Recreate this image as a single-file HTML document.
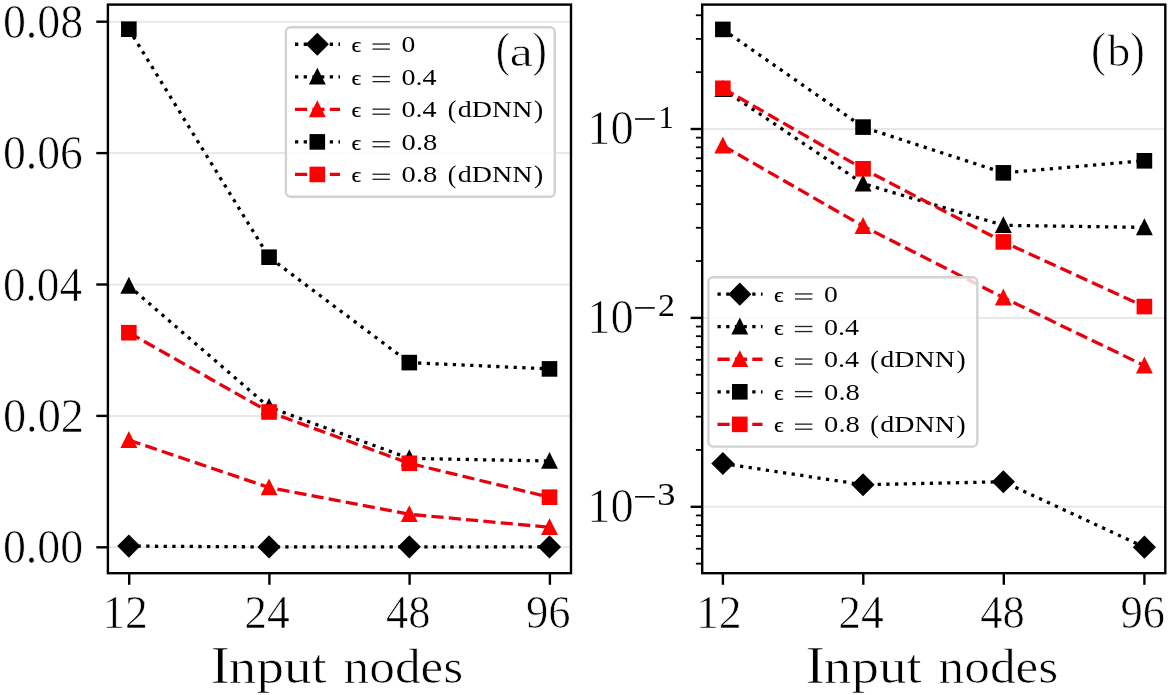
<!DOCTYPE html>
<html><head><meta charset="utf-8"><style>
html,body{margin:0;padding:0;background:#fff;}
svg{display:block;will-change:transform;font-family:"Liberation Serif",serif;font-kerning:none;}
</style></head><body>
<svg width="1169" height="695" viewBox="0 0 1169 695">
<rect width="1169" height="695" fill="#fff"/>
<clipPath id="clipL"><rect x="107.9" y="4.6" width="463.10" height="568.60"/></clipPath>
<line x1="107.9" y1="21.7" x2="571.0" y2="21.7" stroke="#e8e8e8" stroke-width="2"/>
<line x1="107.9" y1="153.1" x2="571.0" y2="153.1" stroke="#e8e8e8" stroke-width="2"/>
<line x1="107.9" y1="284.5" x2="571.0" y2="284.5" stroke="#e8e8e8" stroke-width="2"/>
<line x1="107.9" y1="415.9" x2="571.0" y2="415.9" stroke="#e8e8e8" stroke-width="2"/>
<line x1="107.9" y1="547.3" x2="571.0" y2="547.3" stroke="#e8e8e8" stroke-width="2"/>
<g clip-path="url(#clipL)">
<polyline points="128.85,546.10 269.05,546.90 409.30,546.85 549.50,546.90" fill="none" stroke="#000" stroke-width="3.28" stroke-dasharray="3.28 5.41" stroke-linejoin="round"/>
<polygon points="128.85,534.50 140.45,546.10 128.85,557.70 117.25,546.10" fill="#000"/>
<polygon points="269.05,535.30 280.65,546.90 269.05,558.50 257.45,546.90" fill="#000"/>
<polygon points="409.30,535.25 420.90,546.85 409.30,558.45 397.70,546.85" fill="#000"/>
<polygon points="549.50,535.30 561.10,546.90 549.50,558.50 537.90,546.90" fill="#000"/>
<polyline points="128.85,285.90 269.05,407.20 409.30,458.40 549.50,461.00" fill="none" stroke="#000" stroke-width="3.28" stroke-dasharray="3.28 5.41" stroke-linejoin="round"/>
<polygon points="128.85,276.80 120.40,293.70 137.30,293.70" fill="#000"/>
<polygon points="269.05,398.10 260.60,415.00 277.50,415.00" fill="#000"/>
<polygon points="409.30,449.30 400.85,466.20 417.75,466.20" fill="#000"/>
<polygon points="549.50,451.90 541.05,468.80 557.95,468.80" fill="#000"/>
<polyline points="128.85,440.10 269.05,487.50 409.30,514.30 549.50,527.30" fill="none" stroke="#e8000c" stroke-width="3.28" stroke-dasharray="12.14 5.25" stroke-linejoin="round"/>
<polygon points="128.85,431.00 120.40,447.90 137.30,447.90" fill="#ff0000"/>
<polygon points="269.05,478.40 260.60,495.30 277.50,495.30" fill="#ff0000"/>
<polygon points="409.30,505.20 400.85,522.10 417.75,522.10" fill="#ff0000"/>
<polygon points="549.50,518.20 541.05,535.10 557.95,535.10" fill="#ff0000"/>
<polyline points="128.85,29.20 269.05,257.20 409.30,362.60 549.50,368.90" fill="none" stroke="#000" stroke-width="3.28" stroke-dasharray="3.28 5.41" stroke-linejoin="round"/>
<rect x="121.05" y="21.40" width="15.6" height="15.6" fill="#000"/>
<rect x="261.25" y="249.40" width="15.6" height="15.6" fill="#000"/>
<rect x="401.50" y="354.80" width="15.6" height="15.6" fill="#000"/>
<rect x="541.70" y="361.10" width="15.6" height="15.6" fill="#000"/>
<polyline points="128.85,332.70 269.05,412.00 409.30,463.30 549.50,497.20" fill="none" stroke="#e8000c" stroke-width="3.28" stroke-dasharray="12.14 5.25" stroke-linejoin="round"/>
<rect x="121.05" y="324.90" width="15.6" height="15.6" fill="#ff0000"/>
<rect x="261.25" y="404.20" width="15.6" height="15.6" fill="#ff0000"/>
<rect x="401.50" y="455.50" width="15.6" height="15.6" fill="#ff0000"/>
<rect x="541.70" y="489.40" width="15.6" height="15.6" fill="#ff0000"/>
</g>
<rect x="285.90" y="27.30" width="268.9" height="169.4" rx="4.6" ry="4.6" fill="#fff" fill-opacity="0.8" stroke="#d2d2d2" stroke-width="2.4"/>
<line x1="295.00" y1="44.25" x2="340.00" y2="44.25" stroke="#000" stroke-width="3.28" stroke-dasharray="3.28 5.41"/>
<polygon points="317.30,32.65 328.90,44.25 317.30,55.85 305.70,44.25" fill="#000"/>
<text x="351.40" y="52.19" font-size="21.73" textLength="9.60" lengthAdjust="spacingAndGlyphs" fill="#000" stroke="#000" stroke-width="0.2">ϵ</text>
<rect x="372.50" y="43.40" width="17.40" height="1.3" fill="#222"/>
<rect x="372.50" y="48.45" width="17.40" height="1.3" fill="#222"/>
<text x="401.45" y="52.37" font-size="23.34" textLength="13.80" lengthAdjust="spacingAndGlyphs" fill="#000">0</text>
<line x1="295.00" y1="76.80" x2="340.00" y2="76.80" stroke="#000" stroke-width="3.28" stroke-dasharray="3.28 5.41"/>
<polygon points="317.30,67.70 308.85,84.60 325.75,84.60" fill="#000"/>
<text x="351.40" y="84.74" font-size="21.73" textLength="9.60" lengthAdjust="spacingAndGlyphs" fill="#000" stroke="#000" stroke-width="0.2">ϵ</text>
<rect x="372.50" y="75.95" width="17.40" height="1.3" fill="#222"/>
<rect x="372.50" y="81.00" width="17.40" height="1.3" fill="#222"/>
<text x="401.63" y="84.80" font-size="23" textLength="35.00" lengthAdjust="spacingAndGlyphs" fill="#000">0.4</text>
<line x1="295.00" y1="109.35" x2="340.00" y2="109.35" stroke="#e8000c" stroke-width="3.28" stroke-dasharray="12.14 5.25"/>
<polygon points="317.30,100.25 308.85,117.15 325.75,117.15" fill="#ff0000"/>
<text x="351.40" y="117.29" font-size="21.73" textLength="9.60" lengthAdjust="spacingAndGlyphs" fill="#000" stroke="#000" stroke-width="0.2">ϵ</text>
<rect x="372.50" y="108.50" width="17.40" height="1.3" fill="#222"/>
<rect x="372.50" y="113.55" width="17.40" height="1.3" fill="#222"/>
<text x="401.63" y="117.35" font-size="23" textLength="35.00" lengthAdjust="spacingAndGlyphs" fill="#000">0.4</text>
<text x="447.77" y="117.65" font-size="25.37" textLength="8.56" lengthAdjust="spacingAndGlyphs" fill="#000">(</text>
<text x="457.79" y="117.15" font-size="23.6" textLength="74.55" lengthAdjust="spacingAndGlyphs" fill="#000">dDNN</text>
<text x="534.11" y="117.65" font-size="25.37" textLength="9.21" lengthAdjust="spacingAndGlyphs" fill="#000">)</text>
<line x1="295.00" y1="141.90" x2="340.00" y2="141.90" stroke="#000" stroke-width="3.28" stroke-dasharray="3.28 5.41"/>
<rect x="309.50" y="134.10" width="15.6" height="15.6" fill="#000"/>
<text x="351.40" y="149.84" font-size="21.73" textLength="9.60" lengthAdjust="spacingAndGlyphs" fill="#000" stroke="#000" stroke-width="0.2">ϵ</text>
<rect x="372.50" y="141.05" width="17.40" height="1.3" fill="#222"/>
<rect x="372.50" y="146.10" width="17.40" height="1.3" fill="#222"/>
<text x="401.61" y="149.90" font-size="23" textLength="35.67" lengthAdjust="spacingAndGlyphs" fill="#000">0.8</text>
<line x1="295.00" y1="174.45" x2="340.00" y2="174.45" stroke="#e8000c" stroke-width="3.28" stroke-dasharray="12.14 5.25"/>
<rect x="309.50" y="166.65" width="15.6" height="15.6" fill="#ff0000"/>
<text x="351.40" y="182.39" font-size="21.73" textLength="9.60" lengthAdjust="spacingAndGlyphs" fill="#000" stroke="#000" stroke-width="0.2">ϵ</text>
<rect x="372.50" y="173.60" width="17.40" height="1.3" fill="#222"/>
<rect x="372.50" y="178.65" width="17.40" height="1.3" fill="#222"/>
<text x="401.61" y="182.45" font-size="23" textLength="35.67" lengthAdjust="spacingAndGlyphs" fill="#000">0.8</text>
<text x="447.77" y="182.75" font-size="25.37" textLength="8.56" lengthAdjust="spacingAndGlyphs" fill="#000">(</text>
<text x="457.79" y="182.25" font-size="23.6" textLength="74.55" lengthAdjust="spacingAndGlyphs" fill="#000">dDNN</text>
<text x="534.11" y="182.75" font-size="25.37" textLength="9.21" lengthAdjust="spacingAndGlyphs" fill="#000">)</text>
<rect x="107.9" y="4.6" width="463.10" height="568.60" fill="none" stroke="#000" stroke-width="2.4" stroke-linejoin="miter"/>
<line x1="129.2" y1="573.2" x2="129.2" y2="584.8000000000001" stroke="#000" stroke-width="2.4"/>
<line x1="269.4" y1="573.2" x2="269.4" y2="584.8000000000001" stroke="#000" stroke-width="2.4"/>
<line x1="409.6" y1="573.2" x2="409.6" y2="584.8000000000001" stroke="#000" stroke-width="2.4"/>
<line x1="549.9" y1="573.2" x2="549.9" y2="584.8000000000001" stroke="#000" stroke-width="2.4"/>
<clipPath id="clipR"><rect x="702.2" y="4.6" width="463.10" height="568.60"/></clipPath>
<line x1="702.2" y1="129.0" x2="1165.3" y2="129.0" stroke="#e8e8e8" stroke-width="2"/>
<line x1="702.2" y1="317.9" x2="1165.3" y2="317.9" stroke="#e8e8e8" stroke-width="2"/>
<line x1="702.2" y1="506.8" x2="1165.3" y2="506.8" stroke="#e8e8e8" stroke-width="2"/>
<g clip-path="url(#clipR)">
<polyline points="722.85,463.50 863.05,484.75 1003.35,481.75 1144.40,547.15" fill="none" stroke="#000" stroke-width="3.28" stroke-dasharray="3.28 5.41" stroke-linejoin="round"/>
<polygon points="722.85,451.90 734.45,463.50 722.85,475.10 711.25,463.50" fill="#000"/>
<polygon points="863.05,473.15 874.65,484.75 863.05,496.35 851.45,484.75" fill="#000"/>
<polygon points="1003.35,470.15 1014.95,481.75 1003.35,493.35 991.75,481.75" fill="#000"/>
<polygon points="1144.40,535.55 1156.00,547.15 1144.40,558.75 1132.80,547.15" fill="#000"/>
<polyline points="722.85,89.10 863.05,183.60 1003.35,225.30 1144.40,227.40" fill="none" stroke="#000" stroke-width="3.28" stroke-dasharray="3.28 5.41" stroke-linejoin="round"/>
<polygon points="722.85,80.00 714.40,96.90 731.30,96.90" fill="#000"/>
<polygon points="863.05,174.50 854.60,191.40 871.50,191.40" fill="#000"/>
<polygon points="1003.35,216.20 994.90,233.10 1011.80,233.10" fill="#000"/>
<polygon points="1144.40,218.30 1135.95,235.20 1152.85,235.20" fill="#000"/>
<polyline points="722.85,145.60 863.05,226.10 1003.35,297.60 1144.40,365.60" fill="none" stroke="#e8000c" stroke-width="3.28" stroke-dasharray="12.14 5.25" stroke-linejoin="round"/>
<polygon points="722.85,136.50 714.40,153.40 731.30,153.40" fill="#ff0000"/>
<polygon points="863.05,217.00 854.60,233.90 871.50,233.90" fill="#ff0000"/>
<polygon points="1003.35,288.50 994.90,305.40 1011.80,305.40" fill="#ff0000"/>
<polygon points="1144.40,356.50 1135.95,373.40 1152.85,373.40" fill="#ff0000"/>
<polyline points="722.85,29.40 863.05,127.10 1003.35,172.85 1144.40,160.80" fill="none" stroke="#000" stroke-width="3.28" stroke-dasharray="3.28 5.41" stroke-linejoin="round"/>
<rect x="715.05" y="21.60" width="15.6" height="15.6" fill="#000"/>
<rect x="855.25" y="119.30" width="15.6" height="15.6" fill="#000"/>
<rect x="995.55" y="165.05" width="15.6" height="15.6" fill="#000"/>
<rect x="1136.60" y="153.00" width="15.6" height="15.6" fill="#000"/>
<polyline points="722.85,88.30 863.05,168.80 1003.35,241.90 1144.40,306.55" fill="none" stroke="#e8000c" stroke-width="3.28" stroke-dasharray="12.14 5.25" stroke-linejoin="round"/>
<rect x="715.05" y="80.50" width="15.6" height="15.6" fill="#ff0000"/>
<rect x="855.25" y="161.00" width="15.6" height="15.6" fill="#ff0000"/>
<rect x="995.55" y="234.10" width="15.6" height="15.6" fill="#ff0000"/>
<rect x="1136.60" y="298.75" width="15.6" height="15.6" fill="#ff0000"/>
</g>
<rect x="708.40" y="277.20" width="268.9" height="169.4" rx="4.6" ry="4.6" fill="#fff" fill-opacity="0.8" stroke="#d2d2d2" stroke-width="2.4"/>
<line x1="717.50" y1="294.15" x2="762.50" y2="294.15" stroke="#000" stroke-width="3.28" stroke-dasharray="3.28 5.41"/>
<polygon points="739.80,282.55 751.40,294.15 739.80,305.75 728.20,294.15" fill="#000"/>
<text x="773.90" y="302.09" font-size="21.73" textLength="9.60" lengthAdjust="spacingAndGlyphs" fill="#000" stroke="#000" stroke-width="0.2">ϵ</text>
<rect x="795.00" y="293.30" width="17.40" height="1.3" fill="#222"/>
<rect x="795.00" y="298.35" width="17.40" height="1.3" fill="#222"/>
<text x="823.95" y="302.27" font-size="23.34" textLength="13.80" lengthAdjust="spacingAndGlyphs" fill="#000">0</text>
<line x1="717.50" y1="326.70" x2="762.50" y2="326.70" stroke="#000" stroke-width="3.28" stroke-dasharray="3.28 5.41"/>
<polygon points="739.80,317.60 731.35,334.50 748.25,334.50" fill="#000"/>
<text x="773.90" y="334.64" font-size="21.73" textLength="9.60" lengthAdjust="spacingAndGlyphs" fill="#000" stroke="#000" stroke-width="0.2">ϵ</text>
<rect x="795.00" y="325.85" width="17.40" height="1.3" fill="#222"/>
<rect x="795.00" y="330.90" width="17.40" height="1.3" fill="#222"/>
<text x="824.13" y="334.70" font-size="23" textLength="35.00" lengthAdjust="spacingAndGlyphs" fill="#000">0.4</text>
<line x1="717.50" y1="359.25" x2="762.50" y2="359.25" stroke="#e8000c" stroke-width="3.28" stroke-dasharray="12.14 5.25"/>
<polygon points="739.80,350.15 731.35,367.05 748.25,367.05" fill="#ff0000"/>
<text x="773.90" y="367.19" font-size="21.73" textLength="9.60" lengthAdjust="spacingAndGlyphs" fill="#000" stroke="#000" stroke-width="0.2">ϵ</text>
<rect x="795.00" y="358.40" width="17.40" height="1.3" fill="#222"/>
<rect x="795.00" y="363.45" width="17.40" height="1.3" fill="#222"/>
<text x="824.13" y="367.25" font-size="23" textLength="35.00" lengthAdjust="spacingAndGlyphs" fill="#000">0.4</text>
<text x="870.27" y="367.55" font-size="25.37" textLength="8.56" lengthAdjust="spacingAndGlyphs" fill="#000">(</text>
<text x="880.29" y="367.05" font-size="23.6" textLength="74.55" lengthAdjust="spacingAndGlyphs" fill="#000">dDNN</text>
<text x="956.61" y="367.55" font-size="25.37" textLength="9.21" lengthAdjust="spacingAndGlyphs" fill="#000">)</text>
<line x1="717.50" y1="391.80" x2="762.50" y2="391.80" stroke="#000" stroke-width="3.28" stroke-dasharray="3.28 5.41"/>
<rect x="732.00" y="384.00" width="15.6" height="15.6" fill="#000"/>
<text x="773.90" y="399.74" font-size="21.73" textLength="9.60" lengthAdjust="spacingAndGlyphs" fill="#000" stroke="#000" stroke-width="0.2">ϵ</text>
<rect x="795.00" y="390.95" width="17.40" height="1.3" fill="#222"/>
<rect x="795.00" y="396.00" width="17.40" height="1.3" fill="#222"/>
<text x="824.11" y="399.80" font-size="23" textLength="35.67" lengthAdjust="spacingAndGlyphs" fill="#000">0.8</text>
<line x1="717.50" y1="424.35" x2="762.50" y2="424.35" stroke="#e8000c" stroke-width="3.28" stroke-dasharray="12.14 5.25"/>
<rect x="732.00" y="416.55" width="15.6" height="15.6" fill="#ff0000"/>
<text x="773.90" y="432.29" font-size="21.73" textLength="9.60" lengthAdjust="spacingAndGlyphs" fill="#000" stroke="#000" stroke-width="0.2">ϵ</text>
<rect x="795.00" y="423.50" width="17.40" height="1.3" fill="#222"/>
<rect x="795.00" y="428.55" width="17.40" height="1.3" fill="#222"/>
<text x="824.11" y="432.35" font-size="23" textLength="35.67" lengthAdjust="spacingAndGlyphs" fill="#000">0.8</text>
<text x="870.27" y="432.65" font-size="25.37" textLength="8.56" lengthAdjust="spacingAndGlyphs" fill="#000">(</text>
<text x="880.29" y="432.15" font-size="23.6" textLength="74.55" lengthAdjust="spacingAndGlyphs" fill="#000">dDNN</text>
<text x="956.61" y="432.65" font-size="25.37" textLength="9.21" lengthAdjust="spacingAndGlyphs" fill="#000">)</text>
<rect x="702.2" y="4.6" width="463.10" height="568.60" fill="none" stroke="#000" stroke-width="2.4" stroke-linejoin="miter"/>
<line x1="722.9" y1="573.2" x2="722.9" y2="584.8000000000001" stroke="#000" stroke-width="2.4"/>
<line x1="863.3" y1="573.2" x2="863.3" y2="584.8000000000001" stroke="#000" stroke-width="2.4"/>
<line x1="1003.8" y1="573.2" x2="1003.8" y2="584.8000000000001" stroke="#000" stroke-width="2.4"/>
<line x1="1144.4" y1="573.2" x2="1144.4" y2="584.8000000000001" stroke="#000" stroke-width="2.4"/>
<text x="102.23" y="627.50" font-size="47.4" textLength="45.69" lengthAdjust="spacingAndGlyphs" fill="#000" stroke="#fff" stroke-width="0.7">12</text>
<text x="244.35" y="627.50" font-size="47.4" textLength="45.46" lengthAdjust="spacingAndGlyphs" fill="#000" stroke="#fff" stroke-width="0.7">24</text>
<text x="385.98" y="627.50" font-size="47.4" textLength="44.57" lengthAdjust="spacingAndGlyphs" fill="#000" stroke="#fff" stroke-width="0.7">48</text>
<text x="526.06" y="627.50" font-size="47.4" textLength="44.62" lengthAdjust="spacingAndGlyphs" fill="#000" stroke="#fff" stroke-width="0.7">96</text>
<text x="695.93" y="627.50" font-size="47.4" textLength="45.69" lengthAdjust="spacingAndGlyphs" fill="#000" stroke="#fff" stroke-width="0.7">12</text>
<text x="838.25" y="627.50" font-size="47.4" textLength="45.46" lengthAdjust="spacingAndGlyphs" fill="#000" stroke="#fff" stroke-width="0.7">24</text>
<text x="980.18" y="627.50" font-size="47.4" textLength="44.57" lengthAdjust="spacingAndGlyphs" fill="#000" stroke="#fff" stroke-width="0.7">48</text>
<text x="1120.56" y="627.50" font-size="47.4" textLength="44.62" lengthAdjust="spacingAndGlyphs" fill="#000" stroke="#fff" stroke-width="0.7">96</text>
<text x="210.68" y="683.35" font-size="51.77" textLength="19.09" lengthAdjust="spacingAndGlyphs" fill="#000" stroke="#fff" stroke-width="0.7">I</text>
<text x="228.89" y="683.30" font-size="47.7" textLength="97.89" lengthAdjust="spacingAndGlyphs" fill="#000" stroke="#fff" stroke-width="0.7">nput</text>
<text x="343.57" y="683.30" font-size="47.7" textLength="119.73" lengthAdjust="spacingAndGlyphs" fill="#000" stroke="#fff" stroke-width="0.7">nodes</text>
<text x="805.68" y="683.35" font-size="51.77" textLength="19.09" lengthAdjust="spacingAndGlyphs" fill="#000" stroke="#fff" stroke-width="0.7">I</text>
<text x="823.89" y="683.30" font-size="47.7" textLength="97.89" lengthAdjust="spacingAndGlyphs" fill="#000" stroke="#fff" stroke-width="0.7">nput</text>
<text x="938.57" y="683.30" font-size="47.7" textLength="119.73" lengthAdjust="spacingAndGlyphs" fill="#000" stroke="#fff" stroke-width="0.7">nodes</text>
<line x1="96.30000000000001" y1="21.7" x2="107.9" y2="21.7" stroke="#000" stroke-width="2.4"/>
<text x="2.90" y="37.70" font-size="48.3" textLength="80.29" lengthAdjust="spacingAndGlyphs" fill="#000" stroke="#fff" stroke-width="0.7">0.08</text>
<line x1="96.30000000000001" y1="153.1" x2="107.9" y2="153.1" stroke="#000" stroke-width="2.4"/>
<text x="2.91" y="169.10" font-size="48.3" textLength="79.90" lengthAdjust="spacingAndGlyphs" fill="#000" stroke="#fff" stroke-width="0.7">0.06</text>
<line x1="96.30000000000001" y1="284.5" x2="107.9" y2="284.5" stroke="#000" stroke-width="2.4"/>
<text x="2.93" y="300.50" font-size="48.3" textLength="79.23" lengthAdjust="spacingAndGlyphs" fill="#000" stroke="#fff" stroke-width="0.7">0.04</text>
<line x1="96.30000000000001" y1="415.9" x2="107.9" y2="415.9" stroke="#000" stroke-width="2.4"/>
<text x="2.88" y="431.90" font-size="48.3" textLength="81.12" lengthAdjust="spacingAndGlyphs" fill="#000" stroke="#fff" stroke-width="0.7">0.02</text>
<line x1="96.30000000000001" y1="547.3" x2="107.9" y2="547.3" stroke="#000" stroke-width="2.4"/>
<text x="2.90" y="563.30" font-size="48.3" textLength="80.29" lengthAdjust="spacingAndGlyphs" fill="#000" stroke="#fff" stroke-width="0.7">0.00</text>
<line x1="695.9000000000001" y1="563.66" x2="702.2" y2="563.66" stroke="#000" stroke-width="1.8"/>
<line x1="695.9000000000001" y1="548.71" x2="702.2" y2="548.71" stroke="#000" stroke-width="1.8"/>
<line x1="695.9000000000001" y1="536.06" x2="702.2" y2="536.06" stroke="#000" stroke-width="1.8"/>
<line x1="695.9000000000001" y1="525.11" x2="702.2" y2="525.11" stroke="#000" stroke-width="1.8"/>
<line x1="695.9000000000001" y1="515.44" x2="702.2" y2="515.44" stroke="#000" stroke-width="1.8"/>
<line x1="695.9000000000001" y1="449.94" x2="702.2" y2="449.94" stroke="#000" stroke-width="1.8"/>
<line x1="695.9000000000001" y1="416.67" x2="702.2" y2="416.67" stroke="#000" stroke-width="1.8"/>
<line x1="695.9000000000001" y1="393.07" x2="702.2" y2="393.07" stroke="#000" stroke-width="1.8"/>
<line x1="695.9000000000001" y1="374.76" x2="702.2" y2="374.76" stroke="#000" stroke-width="1.8"/>
<line x1="695.9000000000001" y1="359.81" x2="702.2" y2="359.81" stroke="#000" stroke-width="1.8"/>
<line x1="695.9000000000001" y1="347.16" x2="702.2" y2="347.16" stroke="#000" stroke-width="1.8"/>
<line x1="695.9000000000001" y1="336.21" x2="702.2" y2="336.21" stroke="#000" stroke-width="1.8"/>
<line x1="695.9000000000001" y1="326.54" x2="702.2" y2="326.54" stroke="#000" stroke-width="1.8"/>
<line x1="695.9000000000001" y1="261.04" x2="702.2" y2="261.04" stroke="#000" stroke-width="1.8"/>
<line x1="695.9000000000001" y1="227.77" x2="702.2" y2="227.77" stroke="#000" stroke-width="1.8"/>
<line x1="695.9000000000001" y1="204.17" x2="702.2" y2="204.17" stroke="#000" stroke-width="1.8"/>
<line x1="695.9000000000001" y1="185.86" x2="702.2" y2="185.86" stroke="#000" stroke-width="1.8"/>
<line x1="695.9000000000001" y1="170.91" x2="702.2" y2="170.91" stroke="#000" stroke-width="1.8"/>
<line x1="695.9000000000001" y1="158.26" x2="702.2" y2="158.26" stroke="#000" stroke-width="1.8"/>
<line x1="695.9000000000001" y1="147.31" x2="702.2" y2="147.31" stroke="#000" stroke-width="1.8"/>
<line x1="695.9000000000001" y1="137.64" x2="702.2" y2="137.64" stroke="#000" stroke-width="1.8"/>
<line x1="695.9000000000001" y1="72.14" x2="702.2" y2="72.14" stroke="#000" stroke-width="1.8"/>
<line x1="695.9000000000001" y1="38.87" x2="702.2" y2="38.87" stroke="#000" stroke-width="1.8"/>
<line x1="695.9000000000001" y1="15.27" x2="702.2" y2="15.27" stroke="#000" stroke-width="1.8"/>
<line x1="690.6" y1="129.0" x2="702.2" y2="129.0" stroke="#000" stroke-width="2.4"/>
<text x="587.17" y="144.00" font-size="47.8" textLength="46.45" lengthAdjust="spacingAndGlyphs" fill="#000" stroke="#fff" stroke-width="0.7">10</text>
<rect x="635.1" y="118.20" width="19.6" height="1.6" fill="#000"/>
<text x="658.40" y="127.50" font-size="32" textLength="15.34" lengthAdjust="spacingAndGlyphs" fill="#000">1</text>
<line x1="690.6" y1="317.9" x2="702.2" y2="317.9" stroke="#000" stroke-width="2.4"/>
<text x="587.17" y="332.90" font-size="47.8" textLength="46.45" lengthAdjust="spacingAndGlyphs" fill="#000" stroke="#fff" stroke-width="0.7">10</text>
<rect x="635.1" y="307.10" width="19.6" height="1.6" fill="#000"/>
<text x="658.11" y="316.40" font-size="32" textLength="16.96" lengthAdjust="spacingAndGlyphs" fill="#000">2</text>
<line x1="690.6" y1="506.8" x2="702.2" y2="506.8" stroke="#000" stroke-width="2.4"/>
<text x="587.17" y="521.80" font-size="47.8" textLength="46.45" lengthAdjust="spacingAndGlyphs" fill="#000" stroke="#fff" stroke-width="0.7">10</text>
<rect x="635.1" y="496.00" width="19.6" height="1.6" fill="#000"/>
<text x="657.36" y="505.30" font-size="32" textLength="18.16" lengthAdjust="spacingAndGlyphs" fill="#000">3</text>
<text x="495.65" y="66.06" font-size="47.86" textLength="14.39" lengthAdjust="spacingAndGlyphs" fill="#000" stroke="#fff" stroke-width="0.7">(</text>
<text x="509.59" y="65.53" font-size="43.01" textLength="23.48" lengthAdjust="spacingAndGlyphs" fill="#000" stroke="#fff" stroke-width="0.7">a</text>
<text x="532.46" y="66.06" font-size="47.86" textLength="14.39" lengthAdjust="spacingAndGlyphs" fill="#000" stroke="#fff" stroke-width="0.7">)</text>
<text x="1091.08" y="66.06" font-size="47.86" textLength="14.91" lengthAdjust="spacingAndGlyphs" fill="#000" stroke="#fff" stroke-width="0.7">(</text>
<text x="1107.25" y="65.52" font-size="43.92" textLength="23.16" lengthAdjust="spacingAndGlyphs" fill="#000" stroke="#fff" stroke-width="0.7">b</text>
<text x="1130.01" y="66.06" font-size="47.86" textLength="14.91" lengthAdjust="spacingAndGlyphs" fill="#000" stroke="#fff" stroke-width="0.7">)</text>
</svg>
</body></html>
